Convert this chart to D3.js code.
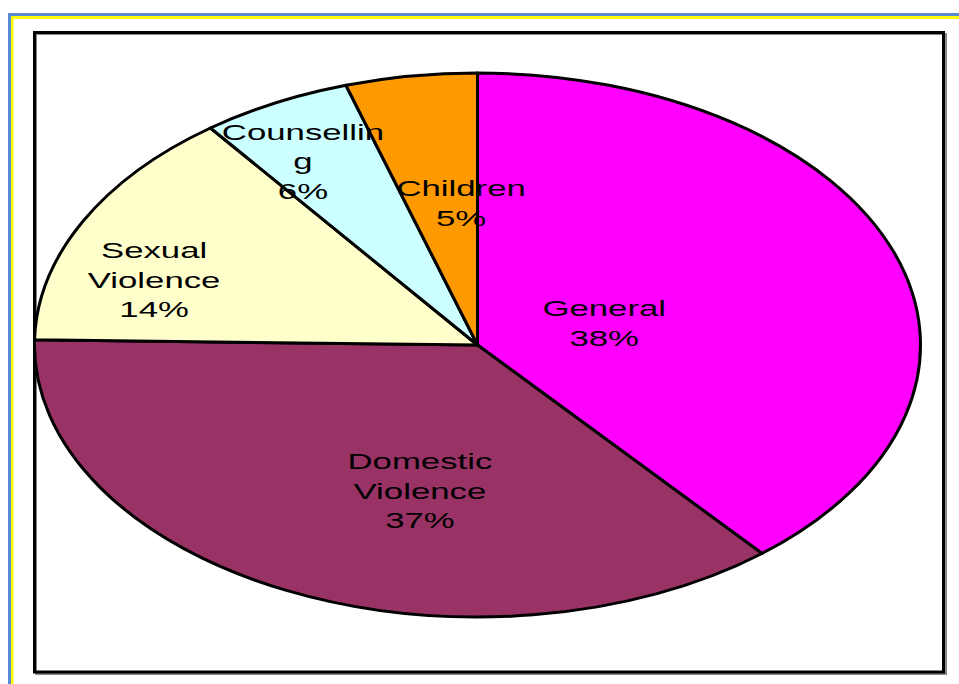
<!DOCTYPE html>
<html>
<head>
<meta charset="utf-8">
<script src="https://cdn.jsdelivr.net/npm/d3@7"></script>
<style>
  html, body { margin: 0; padding: 0; background: #ffffff; }
  svg { display: block; }
</style>
</head>
<body>
<svg id="chart" width="959" height="684"></svg>
<script>
// ---- data ----
const categories = ["General", "Domestic Violence", "Sexual Violence", "Counselling", "Children"];
// slice shares as drawn (angles)
const shares = [38.9, 36.4, 14.4, 5.5, 4.8];
// percentage labels as printed on the chart
const percentLabels = ["38%", "37%", "14%", "6%", "5%"];
// label text lines as wrapped on the chart
const labelLines = [
  ["General"],
  ["Domestic", "Violence"],
  ["Sexual", "Violence"],
  ["Counsellin", "g"],
  ["Children"]
];

// ---- styles / layout ----
const colors = ["#FF00FF", "#993366", "#FFFFCC", "#CCFFFF", "#FF9900"];
// label block centres in ellipse-normalised units (x / rx, y / ry from centre)
const labelPos = [[0.286, -0.081], [-0.130, 0.537], [-0.730, -0.239], [-0.394, -0.676], [-0.037, -0.522]];

const W = 959, H = 684;
const cx = 477.5, cy = 345, rx = 443, ry = 272;
const sx = rx / ry;

const svg = d3.select("#chart");

// outer page frame (blue + yellow lines)
svg.append("rect").attr("x", 8).attr("y", 13).attr("width", W).attr("height", 3).attr("fill", "#5A8BD6");
svg.append("rect").attr("x", 8).attr("y", 13).attr("width", 3).attr("height", H).attr("fill", "#5A8BD6");
svg.append("rect").attr("x", 11).attr("y", 16).attr("width", W).attr("height", 3).attr("fill", "#FFFF00");
svg.append("rect").attr("x", 11).attr("y", 16).attr("width", 2.5).attr("height", H).attr("fill", "#FFFF00");

// chart border with slight shadow
svg.append("rect").attr("x", 36).attr("y", 34).attr("width", 910).attr("height", 640)
  .attr("fill", "none").attr("stroke", "#888").attr("stroke-width", 2);
svg.append("rect").attr("x", 34.5).attr("y", 32.5).attr("width", 909).attr("height", 639.5)
  .attr("fill", "none").attr("stroke", "#000").attr("stroke-width", 3);

// pie
const pie = d3.pie().sort(null).value(d => d).startAngle(0).endAngle(2 * Math.PI);
const arcs = pie(shares);
const arc = d3.arc().innerRadius(0).outerRadius(ry);

const g = svg.append("g").attr("transform", `translate(${cx},${cy}) scale(${sx},1)`);
g.selectAll("path.slice")
  .data(arcs)
  .join("path")
  .attr("class", "slice")
  .attr("d", arc)
  .attr("fill", (d, i) => colors[i])
  .attr("stroke", "#000")
  .attr("stroke-width", 3)
  .attr("stroke-linejoin", "round")
  .attr("vector-effect", "non-scaling-stroke");

// labels
const fontSize = 22, lineH = 29.5, textSx = 1.58;
const lg = svg.append("g").attr("font-family", "'Liberation Sans', Arial, Helvetica, sans-serif")
  .attr("font-size", fontSize).attr("fill", "#000");

categories.forEach((c, i) => {
  const lines = labelLines[i].concat([percentLabels[i]]);
  const bx = cx + labelPos[i][0] * rx;
  const by = cy + labelPos[i][1] * ry;
  const top = by - (lines.length - 1) * lineH / 2;
  lines.forEach((t, j) => {
    lg.append("text")
      .attr("text-anchor", "middle")
      .attr("transform", `translate(${bx},${top + j * lineH + fontSize * 0.36}) scale(${textSx},1)`)
      .text(t);
  });
});
</script>
</body>
</html>
